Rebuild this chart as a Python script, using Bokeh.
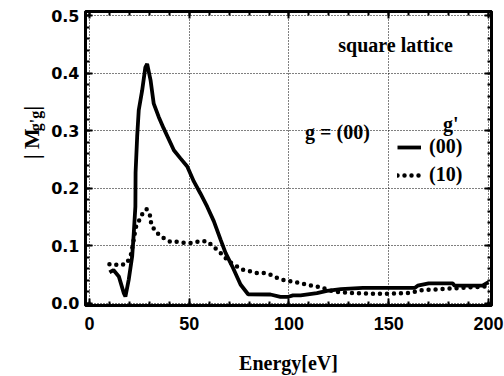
from bokeh.plotting import figure
from bokeh.layouts import row
from bokeh.models import (LinearAxis, FixedTicker, Label, Legend, LegendItem, Range1d,
                          PrintfTickFormatter)
from bokeh.core.properties import value
from bokeh.embed import file_html
from bokeh.resources import INLINE

# ---- data ----
energy_00 = [10, 12, 14.7, 17.2, 18, 19.7, 21.4, 22.2, 23, 23.1, 23.9, 24.7, 26.4, 28, 28.9,
             30.6, 32.2, 34.7, 37.2, 42.3, 45.6, 49, 52.3, 55.6, 59, 62.3, 65.7, 68.2, 71.5,
             75.7, 79.5, 90.7, 95.7, 99.7, 102, 105.8, 114, 119, 126, 137, 163, 164.5, 170,
             182, 183, 197, 200]
m_00 = [0.054, 0.058, 0.047, 0.018, 0.012, 0.042, 0.082, 0.122, 0.168, 0.227, 0.29, 0.336,
        0.37, 0.41, 0.416, 0.388, 0.347, 0.324, 0.304, 0.266, 0.252, 0.238, 0.212, 0.191,
        0.168, 0.143, 0.111, 0.088, 0.065, 0.033, 0.016, 0.0156, 0.0116, 0.0116, 0.014,
        0.014, 0.018, 0.022, 0.025, 0.027, 0.027, 0.031, 0.035, 0.035, 0.031, 0.031, 0.037]

energy_10 = [10, 11.4, 15.2, 18.5, 20.6, 21.9, 22.7, 23.4, 25, 26.7, 28.6, 30.6, 30.9, 33,
             36.4, 40.6, 44, 48.1, 51.5, 55.3, 59, 62.7, 66.5, 69.8, 76.5, 80.4, 84, 87.4,
             90.7, 94.9, 98.2, 102, 105.8, 110, 113.3, 117, 119.8, 124, 131, 140, 149, 161,
             166, 176, 186, 196, 200]
m_10 = [0.068, 0.069, 0.066, 0.069, 0.082, 0.105, 0.122, 0.134, 0.145, 0.157, 0.164, 0.151,
        0.138, 0.125, 0.115, 0.107, 0.107, 0.105, 0.105, 0.108, 0.108, 0.097, 0.085, 0.073,
        0.059, 0.056, 0.053, 0.053, 0.05, 0.043, 0.04, 0.038, 0.035, 0.032, 0.03, 0.027,
        0.023, 0.02, 0.0185, 0.017, 0.017, 0.0185, 0.023, 0.025, 0.027, 0.029, 0.03]

x_ticks = [0, 50, 100, 150, 200]
x_minor = [v for v in range(0, 201, 10)]
y_ticks = [0.0, 0.1, 0.2, 0.3, 0.4, 0.5]
y_minor = [round(i * 0.02, 2) for i in range(0, 26)]
series_labels = ["(00)", "(10)"]
y_title_main = ["| M", "|"]
y_title_sub = ["g'g"]

SERIF = "Liberation Serif"
SANS = "Liberation Sans"
LEFT_W = 46

p = figure(width=504 - LEFT_W, height=376, output_backend="svg", toolbar_location=None,
           x_range=Range1d(-2, 201.5), y_range=Range1d(-0.0035, 0.507),
           min_border_left=85 - LEFT_W, min_border_right=13, min_border_top=11,
           min_border_bottom=70)
p.background_fill_color = "white"
p.border_fill_color = "white"
p.outline_line_color = "black"
p.outline_line_width = 3

r00 = p.line(energy_00, m_00, line_color="black", line_width=3.8)
r10 = p.line(energy_10, m_10, line_color="black", line_width=4.5, line_dash="0 7",
             line_cap="round")

def style_axis(ax, dim, labels=True):
    ticks = x_ticks if dim == 0 else y_ticks
    ax.ticker = FixedTicker(ticks=ticks, minor_ticks=x_minor if dim == 0 else y_minor)
    ax.axis_line_color = "black"
    ax.axis_line_width = 3
    ax.major_tick_in = 7
    ax.major_tick_out = 0
    ax.minor_tick_in = 4
    ax.minor_tick_out = 0
    ax.major_tick_line_width = 2
    ax.minor_tick_line_width = 2
    ax.major_tick_line_color = "black"
    ax.minor_tick_line_color = "black"
    if labels:
        ax.major_label_text_font_style = "bold"
        ax.major_label_text_color = "black"
    else:
        ax.major_label_overrides = {t: "" for t in ticks}
        ax.major_label_standoff = 0

xa = p.xaxis[0]
ya = p.yaxis[0]
style_axis(xa, 0)
style_axis(ya, 1)
xa.major_label_text_font = SANS
xa.major_label_text_font_size = "18px"
ya.major_label_text_font = "DejaVu Sans"
ya.major_label_text_font_size = "16px"
ya.formatter = PrintfTickFormatter(format="%.1f")
xa.major_label_standoff = 11
ya.major_label_standoff = 6
xa.axis_label = "Energy[eV]"
xa.axis_label_text_font = SERIF
xa.axis_label_text_font_style = "bold"
xa.axis_label_text_font_size = "20px"
xa.axis_label_standoff = 19
xa.axis_label_text_color = "black"

top = LinearAxis()
style_axis(top, 0, labels=False)
right = LinearAxis()
style_axis(right, 1, labels=False)
p.add_layout(top, "above")
p.add_layout(right, "right")

for g in (p.xgrid[0], p.ygrid[0]):
    g.grid_line_color = "black"
    g.grid_line_dash = "1 2"
    g.grid_line_width = 1
p.xgrid[0].ticker = FixedTicker(ticks=x_ticks)
p.ygrid[0].ticker = FixedTicker(ticks=y_ticks)

def lab(text, x, y, size, align="left", baseline="alphabetic"):
    l = Label(x=x, y=y, text=text, text_font=SERIF, text_font_style="bold",
              text_font_size=size, text_color="black",
              text_align=align, text_baseline=baseline)
    p.add_layout(l)
    return l

lab("square lattice", 153.4, 0.448, "20px", align="center", baseline="middle")
lab("g = (00)", 124.3, 0.297, "20px", align="center", baseline="middle")
lab("g'", 185, 0.312, "20px", align="right", baseline="middle")

legend = Legend(items=[LegendItem(label=series_labels[0], renderers=[r00]),
                       LegendItem(label=series_labels[1], renderers=[r10])],
                location=(312, 119), orientation="vertical")
legend.background_fill_alpha = 0
legend.border_line_color = None
legend.padding = 0
legend.margin = 0
legend.spacing = 5
legend.glyph_width = 24
legend.glyph_height = 20
legend.label_height = 20
legend.label_standoff = 8
legend.label_text_font = SERIF
legend.label_text_font_style = "bold"
legend.label_text_font_size = "20px"
legend.label_text_color = "black"
p.add_layout(legend)

# narrow left panel holding the rotated y-axis title |M_g'g|
q = figure(width=LEFT_W, height=376, output_backend="svg", toolbar_location=None,
           x_range=Range1d(0, LEFT_W), y_range=Range1d(0, 376),
           min_border=0, x_axis_type=None, y_axis_type=None)
q.outline_line_color = None
q.background_fill_color = "white"
q.border_fill_color = "white"
q.xgrid.visible = False
q.ygrid.visible = False
rot = 1.5707963
q.text(x=[31, 31], y=[376 - 189, 376 - 127], text=y_title_main, angle=rot,
       text_font=value(SERIF), text_font_style="bold", text_font_size="22px",
       text_color="black", text_align="left", text_baseline="alphabetic")
q.text(x=[35], y=[376 - 153], text=y_title_sub, angle=rot,
       text_font=value(SERIF), text_font_style="bold", text_font_size="16px",
       text_color="black", text_align="left", text_baseline="alphabetic")

layout = row(q, p, spacing=0)
open("out.html", "w").write(file_html(layout, INLINE))
